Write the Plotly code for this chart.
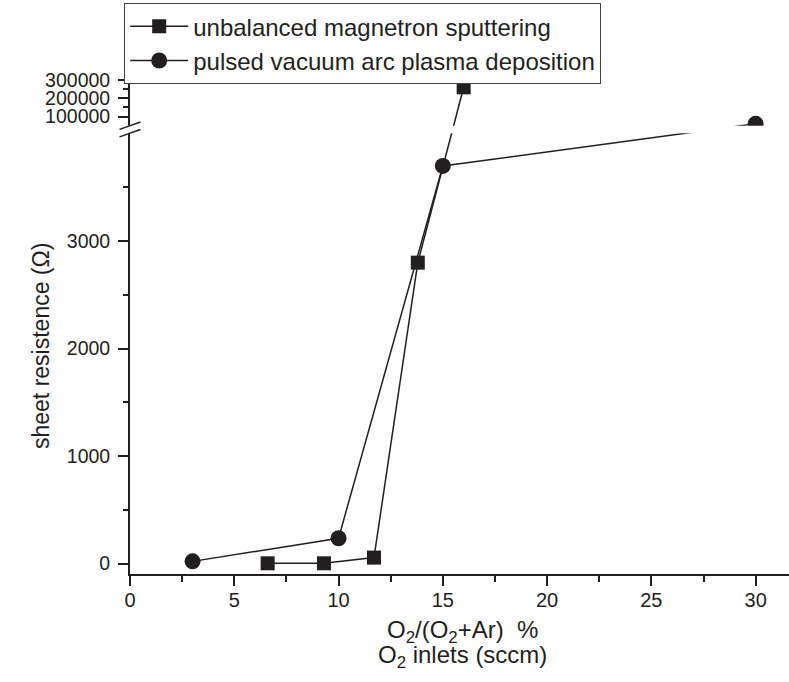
import plotly.graph_objects as go

# ---------------- data ----------------
x_sputter = [6.6, 9.3, 11.7, 13.8, 16.0]
r_sputter = [2, 2, 55, 2800, 260000]

x_arc = [3.0, 10.0, 15.0, 30.0]
r_arc = [20, 235, 3700, 60000]

name_sputter = "unbalanced magnetron sputtering"
name_arc = "pulsed vacuum arc plasma deposition"

lower_ticks = [0, 1000, 2000, 3000]
lower_minor = [500, 1500, 2500, 3500]
upper_ticks = [100000, 200000, 300000]
upper_minor = [150000, 250000]
x_ticks = [0, 5, 10, 15, 20, 25, 30]
x_minor = [2.5, 7.5, 12.5, 17.5, 22.5, 27.5]

# ---------------- broken y axis (lower linear segment + compressed upper segment) ----------------
LOW_TOP = 4000        # top value of lower segment
UP_BOTTOM = 50000     # bottom value of upper segment
UP_TOP = 300000       # top value of upper segment
UP_START_D = 4075     # display coordinate where upper segment starts
UP_END_D = 4500       # display coordinate of upper segment top
Y_MIN_D = -97.5


def brk(v):
    if v <= LOW_TOP:
        return v
    return UP_START_D + (v - UP_BOTTOM) * (UP_END_D - UP_START_D) / (UP_TOP - UP_BOTTOM)


def fmt(v):
    return str(int(v))


ink = "#231f20"
font_family = "Arial, 'Liberation Sans', Helvetica, sans-serif"

W, H = 789, 682
ML, MR, MT, MB = 130, 0, 80, 108
PW, PH = W - ML - MR, H - MT - MB

fig = go.Figure()
fig.add_trace(go.Scatter(
    x=x_sputter, y=[brk(v) for v in r_sputter], name=name_sputter,
    mode="lines+markers",
    line=dict(color=ink, width=1.5),
    marker=dict(symbol="square", size=14, color=ink),
))
fig.add_trace(go.Scatter(
    x=x_arc, y=[brk(v) for v in r_arc], name=name_arc,
    mode="lines+markers",
    line=dict(color=ink, width=1.5),
    marker=dict(symbol="circle", size=16, color=ink),
))

ytickvals = [brk(v) for v in lower_ticks + upper_ticks]
yticktext = [fmt(v) for v in lower_ticks + upper_ticks]
yminor = [brk(v) for v in lower_minor + upper_minor]

fig.update_layout(
    width=W, height=H,
    margin=dict(l=ML, r=MR, t=MT, b=MB),
    paper_bgcolor="white", plot_bgcolor="white",
    font=dict(family=font_family, color=ink, size=20),
    showlegend=True,
    legend=dict(
        x=(124 - ML) / PW, y=1 + (MT - 3) / PH, xanchor="left", yanchor="top",
        bgcolor="white", bordercolor="#444", borderwidth=1.2,
        font=dict(size=24, family=font_family, color=ink),
        itemwidth=58, tracegroupgap=0,
    ),
    xaxis=dict(
        range=[0, 31.6], showline=True, linecolor=ink, linewidth=1.8,
        showgrid=False, zeroline=False,
        tickmode="array", tickvals=x_ticks, ticktext=[str(v) for v in x_ticks],
        ticks="outside", ticklen=10, tickwidth=1.5, tickcolor=ink,
        minor=dict(tickmode="array", tickvals=x_minor, ticks="outside", ticklen=6,
                   tickwidth=1.5, tickcolor=ink, showgrid=False),
        tickfont=dict(size=20), ticklabelstandoff=-3,
    ),
    yaxis=dict(
        range=[Y_MIN_D, UP_END_D], showline=True, linecolor=ink, linewidth=1.8,
        showgrid=False, zeroline=False,
        tickmode="array", tickvals=ytickvals, ticktext=yticktext,
        ticks="outside", ticklen=10, tickwidth=1.5, tickcolor=ink,
        minor=dict(tickmode="array", tickvals=yminor, ticks="outside", ticklen=5,
                   tickwidth=1.5, tickcolor=ink, showgrid=False),
        tickfont=dict(size=19.5), ticklabelstandoff=4,
    ),
)

# break band hiding axis and lines between the two segments
fig.add_shape(type="rect", xref="paper", yref="y",
              x0=-0.04, x1=1.0, y0=LOW_TOP + 5, y1=UP_START_D,
              fillcolor="white", line=dict(width=0), layer="above")
# break marks
for ya in (LOW_TOP + 5, UP_START_D):
    fig.add_shape(type="line", xref="paper", yref="y",
                  xsizemode="pixel", ysizemode="pixel",
                  xanchor=0, yanchor=ya,
                  x0=-10.5, x1=10.5, y0=-3.7, y1=3.7,
                  line=dict(color=ink, width=1.5), layer="above")

# axis titles
fig.add_annotation(text="sheet resistence (Ω)", textangle=-90,
                   xref="paper", yref="paper",
                   x=(41 - ML) / PW, y=(H - MB - 346) / PH,
                   xanchor="center", yanchor="middle", showarrow=False,
                   font=dict(size=23, family=font_family, color=ink))
fig.add_annotation(text="O<sub>2</sub>/(O<sub>2</sub>+Ar)  %",
                   xref="paper", yref="paper",
                   x=0.505, y=-(631 - (H - MB)) / PH,
                   xanchor="center", yanchor="middle", showarrow=False,
                   font=dict(size=24, family=font_family, color=ink))
fig.add_annotation(text="O<sub>2</sub> inlets (sccm)",
                   xref="paper", yref="paper",
                   x=0.505, y=-(656 - (H - MB)) / PH,
                   xanchor="center", yanchor="middle", showarrow=False,
                   font=dict(size=24, family=font_family, color=ink))

fig.write_html("out.html")
